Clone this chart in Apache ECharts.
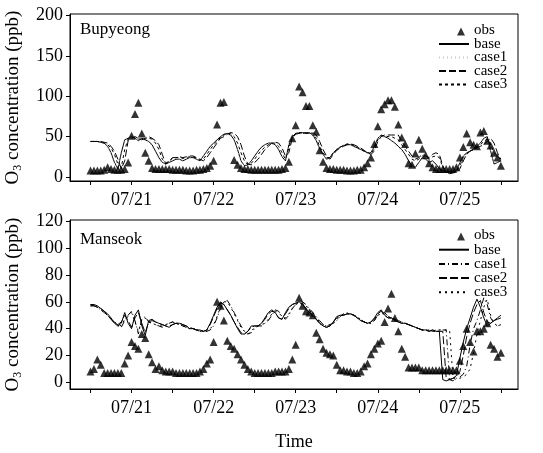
<!DOCTYPE html>
<html>
<head>
<meta charset="utf-8">
<script src="https://cdn.jsdelivr.net/npm/echarts@6/dist/echarts.min.js"></script>
<style>
html, body { margin: 0; padding: 0; background: #fff; }
#chart { width: 543px; height: 453px; }
</style>
</head>
<body>
<div id="chart"></div>
<script>
var FONT = 'Liberation Serif';

// hourly time axis, hours counted from 07/20 00:00
var hours = [];
for (var h = 12; h <= 132; h++) hours.push(h);
var tickHours = [12, 24, 36, 48, 60, 72, 84, 96, 108, 120, 132];
var dayHours = [24, 48, 72, 96, 120];
var dayLabels = ['07/21', '07/22', '07/23', '07/24', '07/25'];
var yTicksTop = [0, 50, 100, 150, 200];
var yTicksBot = [0, 20, 40, 60, 80, 100, 120];
var legendNames = ['obs', 'base', 'case1', 'case2', 'case3'];

// Bupyeong
var bupObs = [
  8, 8, 8, 8, 9, 12, 10, 9, 9, 9, 10, 18,
  51, 78, 92, 54, 30, 20, 11, 10, 10, 10, 10, 10,
  9, 9, 9, 9, 8, 8, 8, 9, 9, 10, 11, 14,
  20, 65, 92, 93, '-', '-', 21, 15, 11, 10, 10, 9,
  9, 9, 9, 9, 9, 9, 9, 9, 10, 11, 19, 48,
  64, 112, 105, 88, 88, 64, 56, 33, 19, 11, 10, 10,
  9, 9, 9, 8, 8, 8, 9, 9, 12, 17, 24, 41,
  63, 84, 90, 95, 95, 87, 65, 49, 41, 17, 15, 29,
  46, 35, 27, 17, 12, 10, 10, 10, 10, 10, 10, 12,
  24, 37, 54, 43, 40, 38, 55, 57, 45, 39, 30, 24,
  14
];
var bupBase = [
  44, 44, 44, 43, 42, 38, 30, 18, 10, 30, 46, 48,
  50, 48, 45, 48, 46, 44, 40, 32, 24, 18, 16, 18,
  20, 22, 22, 20, 22, 24, 24, 22, 20, 26, 32, 38,
  42, 46, 50, 53, 54, 52, 46, 34, 20, 14, 15, 20,
  26, 32, 37, 40, 42, 42, 40, 34, 25, 20, 40, 50,
  54, 55, 55, 54, 55, 52, 45, 35, 28, 22, 24, 30,
  34, 37, 39, 40, 40, 38, 36, 34, 32, 30, 30, 38,
  48, 52, 50, 48, 45, 42, 38, 34, 28, 20, 14, 12,
  18, 24, 22, 18, 20, 16, 10, 8, 6, 6, 6, 7,
  18, 26, 30, 32, 35, 38, 42, 48, 50, 32, 16, 18,
  20
];
var bupCase1 = [
  44, 44, 44, 43, 41, 37, 28, 16, 12, 34, 47, 49,
  50, 47, 46, 48, 45, 43, 38, 30, 22, 17, 17, 19,
  21, 23, 22, 21, 23, 24, 23, 21, 21, 27, 33, 39,
  43, 47, 51, 53, 53, 50, 44, 32, 19, 14, 16, 21,
  27, 33, 38, 40, 42, 41, 39, 32, 24, 22, 42, 51,
  54, 55, 54, 54, 54, 51, 44, 34, 27, 23, 25, 31,
  35, 38, 40, 40, 39, 37, 35, 33, 31, 30, 31, 40,
  49, 51, 49, 47, 44, 41, 37, 32, 26, 18, 13, 13,
  19, 23, 21, 18, 19, 15, 10, 7, 6, 6, 7, 8,
  19, 27, 30, 33, 36, 39, 43, 48, 49, 30, 17, 19,
  20
];
var bupCase2 = [
  44, 44, 44, 44, 43, 42, 38, 32, 22, 10, 20, 45,
  48, 50, 48, 46, 48, 50, 48, 45, 40, 28, 16, 20,
  24, 24, 25, 24, 25, 26, 26, 24, 22, 20, 24, 30,
  36, 42, 48, 50, 53, 55, 54, 50, 40, 26, 16, 15,
  18, 22, 28, 34, 38, 42, 43, 42, 36, 26, 30, 48,
  53, 54, 54, 55, 54, 55, 52, 44, 34, 26, 22, 28,
  33, 36, 38, 40, 41, 40, 38, 36, 33, 30, 28, 32,
  44, 50, 52, 52, 52, 52, 52, 44, 38, 32, 26, 22,
  24, 28, 26, 24, 28, 30, 28, 14, 6, 4, 5, 6,
  10, 20, 28, 32, 34, 36, 38, 40, 44, 48, 42, 30,
  22
];
var bupCase3 = [
  44, 44, 44, 43, 42, 40, 36, 28, 16, 12, 34, 47,
  49, 49, 47, 47, 47, 48, 47, 42, 34, 22, 17, 20,
  23, 24, 24, 23, 24, 25, 25, 23, 21, 22, 28, 34,
  40, 44, 49, 52, 54, 54, 50, 42, 30, 20, 15, 17,
  22, 28, 33, 37, 40, 42, 42, 38, 30, 22, 36, 50,
  54, 54, 55, 54, 55, 54, 48, 38, 30, 24, 24, 30,
  34, 37, 39, 41, 41, 39, 37, 35, 32, 30, 29, 35,
  46, 51, 51, 50, 50, 48, 46, 40, 34, 28, 22, 20,
  22, 26, 25, 22, 25, 26, 24, 12, 6, 5, 6, 7,
  14, 24, 29, 32, 34, 37, 40, 44, 47, 40, 30, 26,
  21
];

// Manseok
var manObs = [
  8, 10, 17, 13, 7, 7, 7, 7, 7, 7, 14, 20,
  30, 27, 25, 36, 33, 21, 15, 10, 12, 9, 8, 8,
  8, 7, 7, 7, 7, 7, 7, 7, 8, 10, 14, 17,
  30, 60, 57, 46, 31, 27, 25, 21, 17, 13, 10, 8,
  7, 7, 7, 7, 7, 7, 8, 8, 8, 8, 10, 17,
  28, 63, 57, 53, 52, 50, 37, 32, 25, 22, 21, 20,
  13, 9, 9, 8, 8, 7, 7, 8, 12, 14, 21, 25,
  29, 31, 45, 55, 66, 48, 38, 25, 19, 11, 11, 11,
  11, 9, 9, 9, 9, 9, 9, 9, 9, 9, 9, 9,
  16, 27, 40, 30, 23, 38, 38, 40, 44, 28, 25, 19,
  22
];
var manBase = [
  58, 58, 57, 55, 53, 51, 48, 44, 42, 44, 52, 44,
  40, 50, 54, 42, 35, 46, 47, 45, 44, 43, 42, 41,
  43, 44, 44, 43, 42, 40, 40, 39, 39, 38, 39, 44,
  50, 56, 60, 58, 54, 50, 45, 40, 36, 36, 38, 42,
  42, 42, 44, 48, 52, 54, 52, 48, 47, 52, 56, 58,
  59, 60, 58, 55, 52, 50, 47, 44, 42, 41, 42, 45,
  49, 50, 50, 51, 51, 50, 48, 46, 45, 44, 45, 48,
  52, 54, 50, 48, 48, 46, 45, 44, 44, 43, 42, 41,
  40, 39, 39, 38, 39, 38, 38, 2, 1, 2, 3, 5,
  18, 30, 40, 48, 56, 62, 56, 48, 42, 44, 46, 48,
  50
];
var manCase1 = [
  57, 57, 56, 54, 52, 50, 47, 45, 42, 41, 46, 50,
  53, 46, 36, 47, 49, 45, 44, 43, 42, 41, 43, 44,
  45, 44, 43, 42, 41, 40, 40, 39, 38, 38, 38, 39,
  42, 48, 55, 60, 61, 57, 52, 47, 42, 38, 36, 37,
  40, 42, 42, 44, 46, 50, 54, 53, 49, 47, 50, 55,
  58, 60, 60, 58, 55, 52, 49, 46, 43, 42, 43, 44,
  46, 49, 51, 52, 51, 50, 49, 47, 45, 44, 44, 46,
  50, 51, 52, 49, 48, 47, 46, 45, 44, 43, 42, 41,
  40, 39, 39, 39, 38, 39, 39, 39, 39, 2, 1, 3,
  4, 6, 12, 28, 40, 46, 54, 63, 58, 48, 44, 42,
  43
];
var manCase2 = [
  58, 57, 56, 55, 53, 50, 47, 44, 43, 45, 50, 46,
  41, 48, 52, 44, 37, 45, 46, 45, 44, 43, 42, 42,
  43, 44, 44, 43, 42, 41, 40, 39, 39, 38, 39, 43,
  49, 55, 59, 58, 54, 50, 45, 41, 37, 36, 38, 41,
  42, 42, 44, 47, 51, 53, 52, 48, 47, 51, 55, 58,
  59, 59, 58, 55, 52, 50, 47, 44, 42, 41, 42, 45,
  48, 50, 50, 51, 51, 50, 48, 46, 45, 44, 45, 47,
  51, 53, 50, 48, 48, 46, 45, 44, 44, 43, 42, 41,
  40, 39, 39, 38, 39, 38, 38, 38, 3, 2, 3, 4,
  8, 20, 34, 44, 52, 58, 61, 52, 45, 44, 46, 47,
  48
];
var manCase3 = [
  57, 57, 56, 54, 52, 50, 47, 45, 43, 42, 47, 49,
  52, 45, 38, 46, 48, 45, 44, 43, 42, 42, 43, 44,
  45, 44, 43, 42, 41, 40, 40, 39, 38, 38, 38, 40,
  43, 49, 56, 60, 60, 56, 51, 46, 41, 38, 36, 38,
  41, 42, 43, 44, 47, 51, 53, 52, 49, 48, 51, 55,
  58, 59, 59, 57, 54, 51, 48, 45, 43, 42, 43, 44,
  47, 49, 51, 51, 51, 50, 48, 47, 45, 44, 44, 46,
  50, 51, 51, 49, 48, 47, 46, 45, 44, 43, 42, 41,
  40, 39, 39, 39, 38, 38, 39, 39, 39, 39, 3, 2,
  3, 4, 6, 10, 22, 36, 46, 56, 62, 50, 44, 42,
  42
];

function pairs(vals) {
  return hours.map(function (h, i) { return [h, vals[i]]; });
}

// small triangle, drawn right of centre inside a 30x10 legend box
var OBS_ICON = 'path://M0,0L0,0M30,10L30,10M22,2L26,10L18,10Z';

function xAxisFor(idx, name) {
  return {
    type: 'value', gridIndex: idx, min: 6, max: 137,
    splitLine: { show: false },
    axisLine: { onZero: false, lineStyle: { color: '#000', width: 1 } },
    axisTick: { customValues: tickHours, length: 4, lineStyle: { color: '#000' } },
    axisLabel: {
      customValues: dayHours, margin: 10, fontFamily: FONT, fontSize: 18, color: '#000',
      formatter: function (v) { return dayLabels[dayHours.indexOf(v)] || ''; }
    },
    name: name, nameLocation: 'middle', nameGap: 44,
    nameTextStyle: { fontFamily: FONT, fontSize: 18, color: '#000' }
  };
}

function yAxisFor(idx, min, max, ticks) {
  return {
    type: 'value', gridIndex: idx, min: min, max: max,
    splitLine: { show: false },
    axisLine: { show: true, onZero: false, lineStyle: { color: '#000', width: 1 } },
    axisTick: { show: true, customValues: ticks, length: 4, lineStyle: { color: '#000' } },
    axisLabel: { customValues: ticks, margin: 7, fontFamily: FONT, fontSize: 18, color: '#000' },
    name: '{a|O}{b|3}{a| concentration (ppb)}',
    nameLocation: 'middle', nameGap: 46,
    nameTextStyle: {
      fontFamily: FONT, fontSize: 19, color: '#000',
      rich: {
        a: { fontFamily: FONT, fontSize: 19, color: '#000' },
        b: { fontFamily: FONT, fontSize: 12, color: '#000', padding: [9, 0, 0, 0] }
      }
    }
  };
}

function panelSeries(idx, suffix, obs, lines, dashes, colors) {
  var out = [{
    name: 'obs' + suffix, type: 'scatter', xAxisIndex: idx, yAxisIndex: idx,
    symbol: 'triangle', symbolSize: 8,
    itemStyle: { color: '#000' }, z: 5,
    data: pairs(obs)
  }];
  for (var i = 0; i < lines.length; i++) {
    out.push({
      name: legendNames[i + 1] + suffix, type: 'line', xAxisIndex: idx, yAxisIndex: idx,
      symbol: 'none', smooth: false,
      itemStyle: { color: colors[i] },
      lineStyle: { color: colors[i], width: 1, type: dashes[i] },
      data: pairs(lines[i])
    });
  }
  return out;
}

function legendFor(suffix, top, gap) {
  return {
    data: legendNames.map(function (n, i) {
      if (i === 0) return { name: n + suffix, icon: OBS_ICON, itemStyle: { color: '#000' } };
      return { name: n + suffix, itemStyle: { opacity: 0 } };
    }),
    orient: 'vertical', left: 438, top: top,
    itemWidth: 30, itemHeight: 10, itemGap: gap, padding: 0,
    selectedMode: false,
    formatter: function (name) { return name.split('_')[0]; },
    textStyle: { fontFamily: FONT, fontSize: 15, color: '#000' }
  };
}

var chart = echarts.init(document.getElementById('chart'));
chart.setOption({
  animation: false,
  backgroundColor: '#fff',
  title: [
    { text: 'Bupyeong', left: 80, top: 21, padding: 0,
      textStyle: { fontFamily: FONT, fontSize: 17, fontWeight: 'normal', color: '#000' } },
    { text: 'Manseok', left: 80, top: 231, padding: 0,
      textStyle: { fontFamily: FONT, fontSize: 17, fontWeight: 'normal', color: '#000' } }
  ],
  legend: [legendFor('_B', 23, -1.5), legendFor('_M', 228, -0.8)],
  grid: [
    { left: 70, top: 14, width: 448, height: 167, outerBoundsMode: 'none',
      show: true, borderColor: '#000', borderWidth: 1 },
    { left: 70, top: 220, width: 448, height: 169, outerBoundsMode: 'none',
      show: true, borderColor: '#000', borderWidth: 1 }
  ],
  xAxis: [xAxisFor(0, ''), xAxisFor(1, 'Time')],
  yAxis: [yAxisFor(0, -5, 202, yTicksTop), yAxisFor(1, -5, 121, yTicksBot)],
  series: panelSeries(0, '_B', bupObs,
      [bupBase, bupCase1, bupCase2, bupCase3],
      ['solid', [1, 3], [7, 3], [3, 3]],
      ['#000', '#c8c8c8', '#000', '#000'])
    .concat(panelSeries(1, '_M', manObs,
      [manBase, manCase1, manCase2, manCase3],
      ['solid', [6, 3, 1, 3], [8, 3], [2, 4]],
      ['#000', '#000', '#000', '#000']))
});
</script>
</body>
</html>
